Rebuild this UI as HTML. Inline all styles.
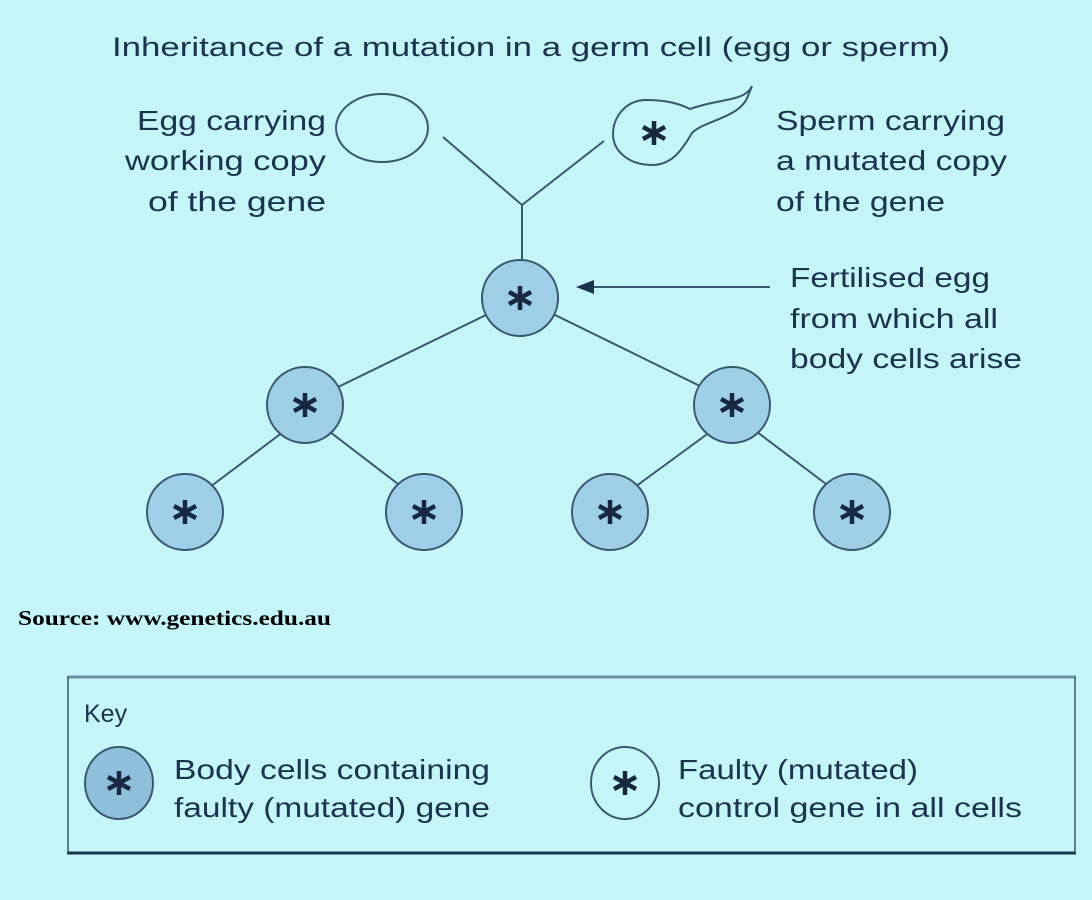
<!DOCTYPE html>
<html><head><meta charset="utf-8"><style>
html,body{margin:0;padding:0;background:#c4f5f7;}
svg{display:block;}
text{font-family:"Liberation Sans",sans-serif;fill:#1c3350;}
</style></head><body>
<svg width="1092" height="900" viewBox="0 0 1092 900" xmlns="http://www.w3.org/2000/svg">
<defs>
<g id="ast">
<g stroke="#182840" stroke-width="4.5" stroke-linecap="butt">
<line x1="0" y1="-12" x2="0" y2="12"/>
<line x1="-11" y1="-6" x2="11" y2="6"/>
<line x1="-11" y1="6" x2="11" y2="-6"/>
</g>
<circle r="4" fill="#182840"/>
</g>
</defs>
<rect width="1092" height="900" fill="#c4f5f7"/>
<text x="112" y="56" font-size="27" textLength="838" lengthAdjust="spacingAndGlyphs">Inheritance of a mutation in a germ cell (egg or sperm)</text>

<g font-size="28" lengthAdjust="spacingAndGlyphs">
<text x="137" y="130" textLength="189" lengthAdjust="spacingAndGlyphs">Egg carrying</text>
<text x="125" y="170" textLength="201" lengthAdjust="spacingAndGlyphs">working copy</text>
<text x="148" y="211" textLength="178" lengthAdjust="spacingAndGlyphs">of the gene</text>
<text x="776" y="130" textLength="229" lengthAdjust="spacingAndGlyphs">Sperm carrying</text>
<text x="776" y="170" textLength="231" lengthAdjust="spacingAndGlyphs">a mutated copy</text>
<text x="776" y="211" textLength="169" lengthAdjust="spacingAndGlyphs">of the gene</text>
<text x="790" y="287" textLength="200" lengthAdjust="spacingAndGlyphs">Fertilised egg</text>
<text x="790" y="328" textLength="208" lengthAdjust="spacingAndGlyphs">from which all</text>
<text x="790" y="368" textLength="232" lengthAdjust="spacingAndGlyphs">body cells arise</text>
</g>

<g stroke="#3a5870" stroke-width="2" fill="none">
<ellipse cx="382" cy="128" rx="46" ry="34"/>
<path d="M646,100 C625,100 613,118 613,134 C613,152 630,165 652,165 C672,165 682,150 692,133 C705,120 740,118 748,96 L752,86 C745,102 720,98 690,109 C676,102 662,100 646,100 Z"/>
<polyline points="443,137 522,205 604,141"/>
<line x1="522" y1="205" x2="522" y2="264"/>
<line x1="488" y1="314" x2="336" y2="388"/>
<line x1="553" y1="314" x2="704" y2="388"/>
<line x1="283" y1="432" x2="210" y2="487"/>
<line x1="330" y1="432" x2="402" y2="487"/>
<line x1="710" y1="432" x2="635" y2="487"/>
<line x1="757" y1="432" x2="830" y2="487"/>
<line x1="770" y1="287" x2="590" y2="287"/>
</g>
<polygon points="576,287 594,280 594,294" fill="#1c3350"/>
<use href="#ast" x="654" y="133"/>

<g fill="#9dcfe6" stroke="#3a5870" stroke-width="2">
<circle cx="520" cy="298" r="38"/>
<circle cx="305" cy="405" r="38"/>
<circle cx="732" cy="405" r="38"/>
<circle cx="185" cy="512" r="38"/>
<circle cx="424" cy="512" r="38"/>
<circle cx="610" cy="512" r="38"/>
<circle cx="852" cy="512" r="38"/>
</g>
<use href="#ast" x="520" y="298"/>
<use href="#ast" x="305" y="405"/>
<use href="#ast" x="732" y="405"/>
<use href="#ast" x="185" y="512"/>
<use href="#ast" x="424" y="512"/>
<use href="#ast" x="610" y="512"/>
<use href="#ast" x="852" y="512"/>

<text x="18" y="625" font-weight="bold" font-size="21" textLength="313" lengthAdjust="spacingAndGlyphs" style="font-family:'Liberation Serif',serif;fill:#000">Source: www.genetics.edu.au</text>

<line x1="67" y1="677" x2="1076" y2="677" stroke="#6a8ea8" stroke-width="3"/>
<line x1="67" y1="853" x2="1076" y2="853" stroke="#1c3350" stroke-width="3"/>
<line x1="68" y1="677" x2="68" y2="853" stroke="#3a5870" stroke-width="1.5"/>
<line x1="1075" y1="677" x2="1075" y2="853" stroke="#3a5870" stroke-width="1.5"/>
<text x="84" y="722" font-size="25">Key</text>
<ellipse cx="119" cy="783" rx="34" ry="36" fill="#8ec0dc" stroke="#3a5870" stroke-width="2"/>
<use href="#ast" x="119" y="783"/>
<ellipse cx="625" cy="783" rx="34" ry="36" fill="none" stroke="#3a5870" stroke-width="2"/>
<use href="#ast" x="625" y="783"/>
<g font-size="28">
<text x="174" y="779" textLength="316" lengthAdjust="spacingAndGlyphs">Body cells containing</text>
<text x="174" y="817" textLength="316" lengthAdjust="spacingAndGlyphs">faulty (mutated) gene</text>
<text x="678" y="779" textLength="240" lengthAdjust="spacingAndGlyphs">Faulty (mutated)</text>
<text x="678" y="817" textLength="344" lengthAdjust="spacingAndGlyphs">control gene in all cells</text>
</g>
</svg>
</body></html>
